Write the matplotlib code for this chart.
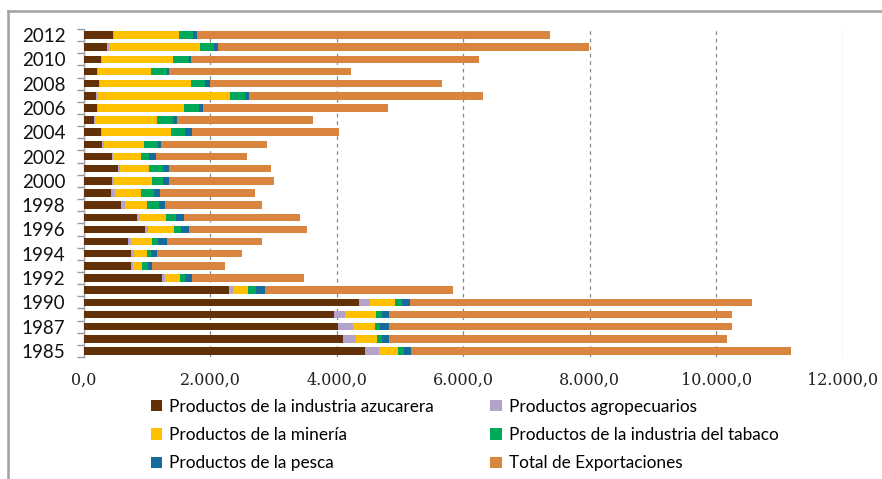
import numpy as np
import matplotlib
matplotlib.use("Agg")
from matplotlib import pyplot as plt
from matplotlib.lines import Line2D
from matplotlib.ticker import FuncFormatter

# years bottom to top, only every other one gets a label
years = ["1985", "1986", "1987", "1989", "1990", "1991", "1992", "1993", "1994",
         "1995", "1996", "1997", "1998", "1999", "2000", "2001", "2002", "2003",
         "2004", "2005", "2006", "2007", "2008", "2009", "2010", "2011", "2012"]

azucar = [4455, 4092, 4013, 3965, 4351, 2296, 1241, 751, 751,
          704, 977, 851, 588, 440, 446, 550, 446, 288,
          277, 161, 209, 203, 250, 218, 272, 377, 461]
agro = [221, 216, 243, 174, 179, 58, 42, 26, 47,
        42, 36, 32, 68, 58, 32, 26, 26, 36,
        16, 16, 16, 16, 16, 16, 16, 20, 25]
mineria = [291, 327, 357, 480, 384, 248, 237, 152, 200,
           337, 416, 416, 343, 406, 610, 458, 438, 632,
           1091, 990, 1360, 2090, 1440, 838, 1122, 1440, 1017]
tabaco = [89, 79, 74, 95, 122, 126, 90, 84, 63,
          90, 111, 163, 199, 210, 174, 226, 131, 216,
          226, 243, 247, 242, 210, 253, 253, 226, 221]
pesca = [122, 115, 142, 115, 122, 142, 105, 74, 100,
         152, 126, 131, 95, 95, 95, 84, 111, 58,
         100, 63, 58, 68, 84, 32, 38, 63, 63]
total = [6003, 5333, 5423, 5423, 5407, 2967, 1776, 1154, 1349,
         1492, 1870, 1829, 1524, 1502, 1660, 1613, 1428, 1676,
         2319, 2160, 2914, 3690, 3658, 2862, 4555, 5866, 5577]

series = [
    ("Productos de la industria azucarera", azucar, "#633107"),
    ("Productos agropecuarios", agro, "#B3A3CB"),
    ("Productos de la minería", mineria, "#FFC000"),
    ("Productos de la industria del tabaco", tabaco, "#00A859"),
    ("Productos de la pesca", pesca, "#156B9C"),
    ("Total de Exportaciones", total, "#D9843F"),
]

fig = plt.figure(figsize=(8.82, 4.79), dpi=100)
ax = fig.add_axes([0.0947, 0.2547, 0.8611, 0.6848])

y = np.arange(len(years))
left = np.zeros(len(years))
handles = []
for name, vals, color in series:
    vals = np.array(vals, dtype=float)
    b = ax.barh(y, vals, left=left, height=0.62, color=color, label=name, zorder=3)
    handles.append(b)
    left += vals

ax.set_xlim(0, 12000)
ax.set_ylim(-0.5, len(years) - 0.5)
ax.set_xticks(np.arange(0, 12001, 2000))
ax.xaxis.set_major_formatter(FuncFormatter(
    lambda v, p: f"{v:,.1f}".replace(",", "X").replace(".", ",").replace("X", ".")))
ax.tick_params(axis="x", length=0, pad=11, labelsize=11.5, labelcolor="#222222")
for lab in ax.get_xticklabels():
    lab.set_family("DejaVu Serif")

ax.set_yticks(y[::2])
ax.set_yticklabels(years[::2], family="Lato", fontsize=13.5, color="#111111")
ax.set_yticks(np.arange(-0.5, len(years), 1), minor=True)
ax.tick_params(axis="y", which="major", length=0, pad=13)
ax.tick_params(axis="y", which="minor", length=5, color="#999999", width=1)

ax.xaxis.grid(True, linestyle=(0, (3, 3)), color="#888888", linewidth=0.9, zorder=0)
for s in ["top", "right", "bottom"]:
    ax.spines[s].set_visible(False)
ax.spines["left"].set_color("#a6a6a6")
ax.spines["left"].set_linewidth(1)

order = [0, 2, 4, 1, 3, 5]
fig.legend([handles[i] for i in order], [series[i][0] for i in order],
           ncol=2, loc="upper left", bbox_to_anchor=(0.171, 0.168),
           frameon=False, prop={"family": "Lato", "size": 12.4},
           handlelength=0.65, handleheight=0.65, handletextpad=0.4,
           columnspacing=3.3, labelspacing=0.72, borderaxespad=0, borderpad=0)

# chart area frame (cut off on the right and bottom)
fig.add_artist(Line2D([8 / 882, 1], [1 - 11 / 479, 1 - 11 / 479],
                      transform=fig.transFigure, color="#a0a0a0", linewidth=1.8))
fig.add_artist(Line2D([8 / 882, 8 / 882], [0, 1 - 11 / 479],
                      transform=fig.transFigure, color="#a0a0a0", linewidth=1.8))

fig.savefig("out.png", dpi=100)
